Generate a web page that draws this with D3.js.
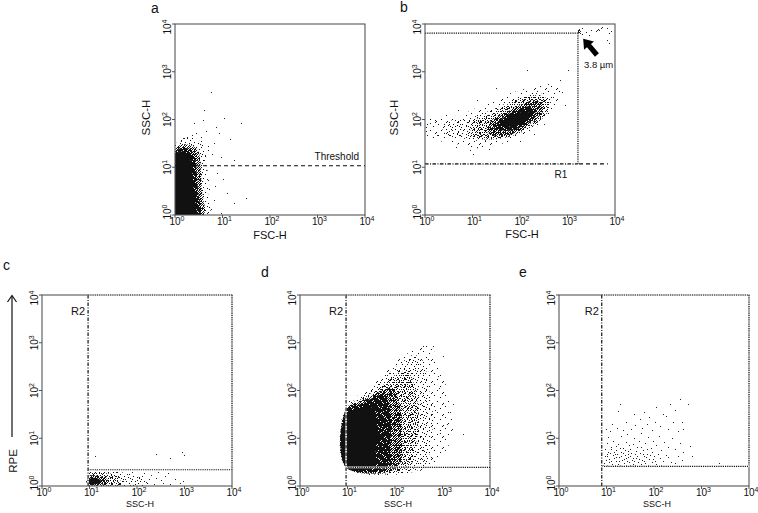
<!DOCTYPE html>
<html>
<head>
<meta charset="utf-8">
<script src="https://cdn.jsdelivr.net/npm/d3@7"></script>
<style>
  body { margin: 0; background: #fff; }
  svg { display: block; }
  text { font-family: "Liberation Sans", Arial, sans-serif; fill: #111; }
</style>
</head>
<body>
<svg id="chart" width="758" height="513"></svg>
<script>
// all data values are log10 of the channel value (decades 0..4)
const tickExps = [0, 1, 2, 3, 4];

// panel a: FSC-H vs SSC-H, no gate
const aThreshold = 1.03;
const aOuter = [[0,0],[0,1.45],[0.15,1.6],[0.4,1.62],[0.6,1.45],[0.68,1.0],[0.7,0.4],[0.72,0]];
const aMid = [[0,0],[0,1.35],[0.1,1.46],[0.3,1.47],[0.48,1.35],[0.54,1.0],[0.57,0.5],[0.6,0]];
const aNear = [[0,0],[0,1.28],[0.08,1.38],[0.2,1.41],[0.34,1.36],[0.43,1.18],[0.46,0.85],[0.49,0.45],[0.52,0]];
const aCore = [[0,0],[0,1.2],[0.05,1.3],[0.15,1.33],[0.27,1.28],[0.34,1.12],[0.37,0.85],[0.4,0.45],[0.42,0]];
const aPoints = [[0.75,2.58],[1.38,1.92],[1.03,2.03],[0.58,1.99],[0.4,1.92],[0.26,1.64],[0.54,1.64],[0.92,1.71],
  [0.82,1.5],[0.69,1.36],[0.96,1.22],[1.24,1.15],[0.89,0.88],[0.69,0.73],[1.1,0.46],[0.82,0.31],[0.61,0.17],
  [1.24,0.25],[0.96,0.04],[0.47,1.15],[0.54,1.0],[0.62,1.15],[0.7,1.45],[0.78,1.28],[0.66,0.95],[0.72,0.55],
  [0.58,0.45],[0.75,0.12],[0.85,0.6],[1.0,0.75],[0.55,1.55],[0.45,1.72],[0.35,1.68],[0.18,1.62],[0.12,1.55],
  [0.66,1.75],[0.87,1.85],[0.6,2.2],[1.15,1.6],[0.9,1.05],[0.52,0.3],[0.68,0.05],[1.5,0.35],[0.5,0.75],[0.64,1.25]];

// panel b: gate R1 and bead population
const bThreshold = 1.07;
const bThresholdEnd = 3.85;
const bGate = [3.22, 3.81];
const bOuter = [[0.05,1.65],[0.05,1.98],[0.4,2.05],[0.75,2.1],[1.2,2.3],[1.8,2.55],[2.3,2.68],[2.8,2.7],[2.85,2.5],
  [2.65,2.1],[2.35,1.8],[1.8,1.55],[1.1,1.4],[0.6,1.5],[0.3,1.55]];
const bMid = [[0.4,1.7],[0.4,1.92],[0.9,2.02],[1.4,2.2],[1.9,2.42],[2.4,2.55],[2.65,2.4],[2.5,2.1],[2.2,1.85],
  [1.8,1.65],[1.2,1.55],[0.8,1.6]];
const bDense = [[1.0,1.65],[1.0,1.95],[1.4,2.12],[1.8,2.35],[2.2,2.5],[2.55,2.45],[2.6,2.2],[2.35,1.92],[1.9,1.68],[1.4,1.58]];
const bCore = [[1.3,1.75],[1.4,1.98],[1.7,2.15],[2.0,2.3],[2.3,2.4],[2.5,2.3],[2.45,2.1],[2.2,1.9],[1.9,1.72],[1.6,1.65]];
const bNear = [[1.45,1.82],[1.65,2.04],[1.95,2.2],[2.22,2.27],[2.33,2.1],[2.12,1.9],[1.8,1.77]];
const bSolid = [[1.6,1.9],[1.78,2.05],[2.0,2.15],[2.17,2.17],[2.2,2.05],[2.02,1.92],[1.8,1.85]];
const bPoints = [[2.14,3.04],[3.02,3.04],[2.84,2.83],[0.95,1.36],[1.09,1.43],[0.66,1.43],[0.25,1.68],[0.11,1.92],
  [2.88,2.58],[2.7,2.48],[0.02,1.75],[0.03,1.85],[0.2,2.0],[0.45,2.1],[1.0,1.28],[1.35,1.38],[2.0,1.55],[2.5,1.9],
  [2.95,2.3],[2.6,2.75],[1.5,2.65],[1.1,2.4],[0.7,2.2],[2.3,1.7]];
const bBeads = [[3.22,3.83],[3.23,3.85],[3.24,3.87],[3.25,3.84],[3.23,3.81],[3.26,3.86],[3.24,3.9],[3.22,3.88],
  [3.27,3.82],[3.31,3.8],[3.38,3.84],[3.45,3.77],[3.49,3.87],[3.59,3.86],[3.66,3.87],[3.7,3.91],[3.73,3.94],
  [3.84,3.91],[3.87,3.81],[3.91,3.86],[3.84,3.66],[3.87,3.6],[3.62,3.88],[3.64,3.89],[3.3,3.92]];
const bArrow = [[3.62,3.35],[3.33,3.69]];

// panel c: negative control, gate R2
const cGate = [0.97, 0.34];
const cMid = [[0.97,0],[0.97,0.28],[1.5,0.3],[1.9,0.25],[2.2,0.14],[2.25,0]];
const cDense = [[0.97,0],[0.97,0.26],[1.3,0.27],[1.6,0.2],[1.65,0]];
const cCore = [[0.98,0.03],[0.98,0.2],[1.15,0.22],[1.35,0.16],[1.4,0.06],[1.3,0.03]];
const cSolid = [[1.0,0.05],[1.0,0.15],[1.15,0.17],[1.25,0.1],[1.2,0.05]];
const cPoints = [[1.11,0.63],[2.41,0.67],[2.7,0.58],[2.94,0.71],[3.0,0.64],[1.6,0.2],[1.7,0.1],[1.8,0.25],
  [1.95,0.05],[2.05,0.18],[2.2,0.08],[2.3,0.22],[2.35,0.04],[2.5,0.12],[2.6,0.2],[2.7,0.05],[2.8,0.14],
  [2.9,0.07],[2.96,0.1],[1.55,0.3],[1.65,0.05],[1.9,0.3],[2.15,0.27],[2.45,0.3],[1.75,0.15],[2.0,0.12],
  [2.25,0.15],[2.65,0.28],[1.85,0.03],[2.1,0.2],[2.55,0.06],[2.4,0.16]];

// panel d: stained sample, gate R2
const dGate = [0.97, 0.39];
const dOuter = [[0.97,0.39],[0.97,1.7],[1.3,1.95],[1.6,2.25],[1.95,2.55],[2.3,2.8],[2.6,2.97],[2.78,2.88],[2.95,2.5],
  [3.1,2.0],[3.2,1.4],[3.15,0.9],[2.9,0.5],[2.8,0.39]];
const dSparse = [[0.97,0.39],[0.97,1.65],[1.35,1.9],[1.75,2.25],[2.1,2.55],[2.4,2.75],[2.6,2.6],[2.7,2.1],[2.8,1.5],
  [2.75,0.9],[2.6,0.39]];
const dMid = [[0.97,0.39],[0.97,1.62],[1.4,1.88],[1.8,2.15],[2.1,2.38],[2.3,2.35],[2.45,1.9],[2.5,1.3],[2.4,0.7],[2.3,0.39]];
const dDense = [[0.97,0.39],[0.97,1.6],[1.35,1.8],[1.7,1.98],[1.95,2.05],[2.1,1.7],[2.15,1.1],[2.05,0.39]];
const dNear = [[0.97,0.39],[0.97,1.58],[1.3,1.72],[1.6,1.88],[1.8,1.9],[1.9,1.5],[1.9,0.9],[1.82,0.39]];
const dCore = [[0.97,0.39],[0.97,1.52],[1.2,1.58],[1.42,1.66],[1.55,1.62],[1.62,1.25],[1.6,0.8],[1.52,0.39]];
const dPoints = [[3.23,1.72],[3.44,1.09],[3.02,2.73],[2.81,2.94],[2.6,2.94],[2.9,2.3],[3.05,1.9],[3.1,1.3],[3.0,0.8],
  [2.7,2.65],[2.85,1.6],[2.95,1.1],[3.15,1.55],[2.75,0.6],[2.92,2.05],[3.2,1.2]];

// panel e: sparse sample, gate R2
const eGate = [0.9, 0.41];
const ePoints = [[0.95,0.48],[0.98,0.55],[1.02,0.62],[1.05,0.5],[1.08,0.7],[1.12,0.46],[1.15,0.58],[1.18,0.66],
  [1.2,0.52],[1.24,0.47],[1.27,0.6],[1.3,0.72],[1.33,0.55],[1.36,0.49],[1.38,0.64],[1.42,0.58],[1.45,0.68],
  [1.47,0.5],[1.5,0.62],[1.53,0.54],[1.56,0.47],[1.6,0.66],[1.63,0.58],[1.66,0.5],[1.7,0.7],[1.74,0.55],
  [1.78,0.62],[1.82,0.48],[1.86,0.68],[1.9,0.56],[1.95,0.5],[2.0,0.63],[2.05,0.47],[2.12,0.58],[2.2,0.52],
  [2.3,0.6],[2.45,0.48],[2.6,0.55],
  [0.93,0.44],[0.97,0.62],[1.0,0.45],[1.03,0.71],[1.06,0.57],[1.1,0.52],[1.13,0.64],[1.17,0.44],[1.21,0.6],
  [1.23,0.68],[1.26,0.53],[1.29,0.45],[1.31,0.63],[1.34,0.69],[1.37,0.57],[1.4,0.45],[1.43,0.52],[1.46,0.6],
  [1.49,0.45],[1.52,0.7],[1.55,0.58],[1.58,0.52],[1.61,0.44],[1.65,0.62],[1.68,0.56],[1.72,0.46],[1.76,0.66],
  [1.8,0.53],[1.84,0.6],[1.88,0.45],[1.92,0.65],[1.97,0.57],[2.02,0.52],[2.08,0.67],[2.15,0.45],[2.25,0.64],
  [2.35,0.5],[2.5,0.62],[1.0,0.68],[1.09,0.78],[1.19,0.84],[1.28,0.8],[1.38,0.75],[1.48,0.85],[1.62,0.74],
  [1.73,0.82],[1.85,0.77],[1.95,0.72],
  [0.96,0.78],[1.0,0.9],[1.04,1.02],[1.1,0.82],[1.14,0.95],[1.2,0.76],[1.25,0.88],[1.3,1.05],[1.35,0.8],
  [1.4,0.93],[1.44,1.08],[1.5,0.78],[1.55,0.87],[1.58,1.0],[1.64,0.82],[1.68,0.95],[1.72,1.1],[1.77,0.76],
  [1.82,0.9],[1.88,1.02],[1.93,0.8],[1.98,0.95],[2.05,0.85],[2.1,1.05],[2.15,0.75],[2.22,0.92],[2.3,0.82],
  [2.38,1.0],[2.45,0.78],[2.55,0.9],[2.75,0.84],[2.62,0.72],[1.16,0.72],[1.46,0.74],
  [0.98,1.2],[1.07,1.15],[1.12,1.3],[1.24,1.58],[1.28,1.72],[1.22,1.22],[1.34,1.18],[1.4,1.35],[1.52,1.2],
  [1.6,1.28],[1.7,1.4],[1.75,1.22],[1.85,1.3],[1.9,1.45],[1.95,1.18],[2.05,1.65],[2.02,1.35],[2.12,1.25],
  [2.2,1.5],[2.26,1.47],[2.33,1.72],[2.3,1.2],[2.4,1.33],[2.45,1.6],[2.54,1.82],[2.5,1.15],[2.61,1.19],
  [2.71,1.72],[2.6,1.35],[1.8,1.55],[1.58,1.5],[3.37,0.49],[2.8,0.62]];

const svg = d3.select("#chart");
const W = 190, H = 191;
const xs = d3.scaleLog().domain([1, 1e4]).range([0, W]);
const ys = d3.scaleLog().domain([1, 1e4]).range([H, 0]);
const px = e => xs(Math.pow(10, e));
const py = e => ys(Math.pow(10, e));

// stipple textures for the dense parts of the clouds
const defs = svg.append("defs");
const stipples = {
  st0: { size: 11, dots: [[2,1],[8,3],[5,7],[0,9],[10,10]] },
  st1: { size: 9, dots: [[1,1],[5,2],[8,6],[3,6],[6,8],[0,4],[7,3]] },
  st2: { size: 7, dots: [[0,0],[3,1],[6,0],[1,3],[5,3],[2,5],[4,6],[6,5],[3,3],[0,6],[5,1]] },
  st3: { size: 5, dots: [[0,0],[2,0],[4,1],[1,1],[3,2],[0,2],[2,3],[4,3],[1,4],[3,4],[4,0],[0,4]] },
  st4: { size: 4, dots: [[0,0],[1,0],[2,0],[0,1],[2,1],[3,1],[1,2],[2,2],[3,2],[0,3],[1,3],[3,3]] }
};
Object.entries(stipples).forEach(([id, s]) => {
  const p = defs.append("pattern").attr("id", id)
    .attr("patternUnits", "userSpaceOnUse")
    .attr("width", s.size).attr("height", s.size);
  s.dots.forEach(d => p.append("rect").attr("x", d[0]).attr("y", d[1])
    .attr("width", 1).attr("height", 1).attr("fill", "#111"));
});

const area = d3.line().x(d => px(d[0])).y(d => py(d[1])).curve(d3.curveCatmullRomClosed);

function drawPanel(cfg) {
  const g = svg.append("g").attr("transform", `translate(${cfg.x},${cfg.y})`);
  defs.append("clipPath").attr("id", "clip-" + cfg.id)
    .append("rect").attr("width", W).attr("height", H);
  const plot = g.append("g").attr("clip-path", `url(#clip-${cfg.id})`);

  (cfg.regions || []).forEach(r => {
    plot.append("path").datum(r[0]).attr("d", area)
      .attr("fill", r[1] === "solid" ? "#111" : `url(#${r[1]})`);
  });
  (cfg.points || []).forEach(set => {
    plot.selectAll(null).data(set).join("rect")
      .attr("x", d => Math.round(px(d[0])))
      .attr("y", d => Math.round(py(d[1])))
      .attr("width", 1).attr("height", 1)
      .attr("fill", "#222");
  });

  // frame
  g.append("rect").attr("width", W).attr("height", H)
    .attr("fill", "none").attr("stroke", "#555").attr("stroke-width", 1.1);

  // ticks
  tickExps.forEach(e => {
    g.append("line").attr("x1", px(e)).attr("x2", px(e)).attr("y1", H).attr("y2", H + 3)
      .attr("stroke", "#555");
    g.append("line").attr("x1", -3).attr("x2", 0).attr("y1", py(e)).attr("y2", py(e))
      .attr("stroke", "#555");

    const tx = g.append("text").attr("x", px(e) + 2).attr("y", H + 10)
      .attr("text-anchor", "middle").attr("font-size", 10);
    tx.append("tspan").text("10");
    tx.append("tspan").attr("dy", -4.5).attr("font-size", 7).text(e);

    const yy = Math.min(Math.max(py(e), 3), H - 3);
    const ty = g.append("text")
      .attr("transform", `translate(-4,${yy}) rotate(-90)`)
      .attr("text-anchor", "middle").attr("font-size", 10);
    ty.append("tspan").text("10");
    ty.append("tspan").attr("dy", -4.5).attr("font-size", 7).text(e);
  });

  // panel letter
  svg.append("text").attr("x", cfg.letterPos[0]).attr("y", cfg.letterPos[1])
    .attr("font-size", 14).text(cfg.id);

  return g;
}

function gateLine(g, x1, y1, x2, y2, dash) {
  g.append("line").attr("x1", x1).attr("y1", y1).attr("x2", x2).attr("y2", y2)
    .attr("stroke", "#fff").attr("stroke-width", 1.6);
  g.append("line").attr("x1", x1).attr("y1", y1).attr("x2", x2).attr("y2", y2)
    .attr("stroke", "#111").attr("stroke-width", 1.2).attr("stroke-dasharray", dash);
}

const dotted = "1.2,1";
const dashDot = "3.5,1.5,1,1.5";

// ---- panel a ----
const ga = drawPanel({ id: "a", x: 175, y: 24, letterPos: [151, 13],
  regions: [[aOuter, "st1"], [aMid, "st3"], [aNear, "st4"], [aCore, "solid"]], points: [aPoints] });
ga.append("line").attr("x1", 0).attr("x2", W).attr("y1", py(aThreshold)).attr("y2", py(aThreshold))
  .attr("stroke", "#111").attr("stroke-width", 1.1).attr("stroke-dasharray", "4,3");
ga.append("text").attr("x", W - 6).attr("y", py(aThreshold) - 6)
  .attr("text-anchor", "end").attr("font-size", 10).text("Threshold");
ga.append("text").attr("x", W / 2).attr("y", H + 24).attr("text-anchor", "middle")
  .attr("font-size", 11).text("FSC-H");
ga.append("text").attr("transform", `translate(-25,${H / 2 - 2}) rotate(-90)`)
  .attr("text-anchor", "middle").attr("font-size", 11.5).text("SSC-H");

// ---- panel b ----
const gb = drawPanel({ id: "b", x: 425, y: 24, letterPos: [400, 12],
  regions: [[bOuter, "st0"], [bMid, "st1"], [bDense, "st2"], [bCore, "st3"], [bNear, "st4"], [bSolid, "solid"]],
  points: [bPoints, bBeads] });
gb.append("line").attr("x1", 0).attr("x2", px(bThresholdEnd))
  .attr("y1", py(bThreshold)).attr("y2", py(bThreshold))
  .attr("stroke", "#111").attr("stroke-width", 1.1).attr("stroke-dasharray", "4,3");
gateLine(gb, 0, py(bGate[1]), px(bGate[0]), py(bGate[1]), dotted);
gateLine(gb, px(bGate[0]), py(bGate[1]), px(bGate[0]), py(bThreshold), dotted);
gb.append("line").attr("x1", 0).attr("x2", px(bGate[0]))
  .attr("y1", py(bThreshold)).attr("y2", py(bThreshold))
  .attr("stroke", "#fff").attr("stroke-width", 1.6);
gb.append("line").attr("x1", 0).attr("x2", px(bGate[0]))
  .attr("y1", py(bThreshold)).attr("y2", py(bThreshold))
  .attr("stroke", "#111").attr("stroke-width", 1.2).attr("stroke-dasharray", dashDot);
gb.append("text").attr("x", px(bGate[0]) - 17).attr("y", py(bThreshold) + 14)
  .attr("text-anchor", "middle").attr("font-size", 10).text("R1");
// arrow pointing at the 3.8 µm beads
{
  const [t0, t1] = bArrow;
  const x0 = px(t0[0]), y0 = py(t0[1]), x1 = px(t1[0]), y1 = py(t1[1]);
  const ang = Math.atan2(y1 - y0, x1 - x0), len = Math.hypot(x1 - x0, y1 - y0);
  const hl = 9, hw = 6.5, sw = 2.6;
  const shape = [[0, -sw], [len - hl, -sw], [len - hl, -hw], [len, 0], [len - hl, hw], [len - hl, sw], [0, sw]];
  gb.append("path")
    .attr("d", "M" + shape.map(p => p.join(",")).join("L") + "Z")
    .attr("transform", `translate(${x0},${y0}) rotate(${ang * 180 / Math.PI})`)
    .attr("fill", "#000");
}
gb.append("text").attr("x", 159).attr("y", 44).attr("font-size", 9.5).text("3.8 µm");
gb.append("text").attr("x", W / 2 + 2).attr("y", H + 22.5).attr("text-anchor", "middle")
  .attr("font-size", 11).text("FSC-H");
gb.append("text").attr("transform", `translate(-27,${H / 2 - 2}) rotate(-90)`)
  .attr("text-anchor", "middle").attr("font-size", 11.5).text("SSC-H");

// ---- panels c, d, e ----
function r2Panel(cfg, gate) {
  const g = drawPanel(cfg);
  const gx = px(gate[0]), gy = py(gate[1]);
  gateLine(g, gx, 0, W, 0, dotted);
  gateLine(g, W, 0, W, gy, dotted);
  gateLine(g, gx, gy, W, gy, dotted);
  gateLine(g, gx, 0, gx, H, dashDot);
  g.append("text").attr("x", gx - 3).attr("y", 20).attr("text-anchor", "end")
    .attr("font-size", 11).text("R2");
  g.append("text").attr("x", W / 2 + 3).attr("y", H + 21).attr("text-anchor", "middle")
    .attr("font-size", 9).text("SSC-H");
  return g;
}

r2Panel({ id: "c", x: 42, y: 295, letterPos: [3, 270],
  regions: [[cMid, "st1"], [cDense, "st2"], [cCore, "st3"], [cSolid, "solid"]], points: [cPoints] }, cGate);
r2Panel({ id: "d", x: 300, y: 295, letterPos: [261, 277],
  regions: [[dOuter, "st0"], [dSparse, "st1"], [dMid, "st2"], [dDense, "st3"], [dNear, "st4"], [dCore, "solid"]],
  points: [dPoints] }, dGate);
r2Panel({ id: "e", x: 559, y: 295, letterPos: [519, 277], points: [ePoints] }, eGate);

// RPE axis arrow on the left of panel c
svg.append("line").attr("x1", 12).attr("x2", 12).attr("y1", 437).attr("y2", 296)
  .attr("stroke", "#111").attr("stroke-width", 1.2);
svg.append("path").attr("d", "M7.5,302 L12,295.5 L16.5,302")
  .attr("fill", "none").attr("stroke", "#111").attr("stroke-width", 1.2);
svg.append("text").attr("transform", "translate(17,461) rotate(-90)")
  .attr("text-anchor", "middle").attr("font-size", 11.5).text("RPE");
</script>
</body>
</html>
